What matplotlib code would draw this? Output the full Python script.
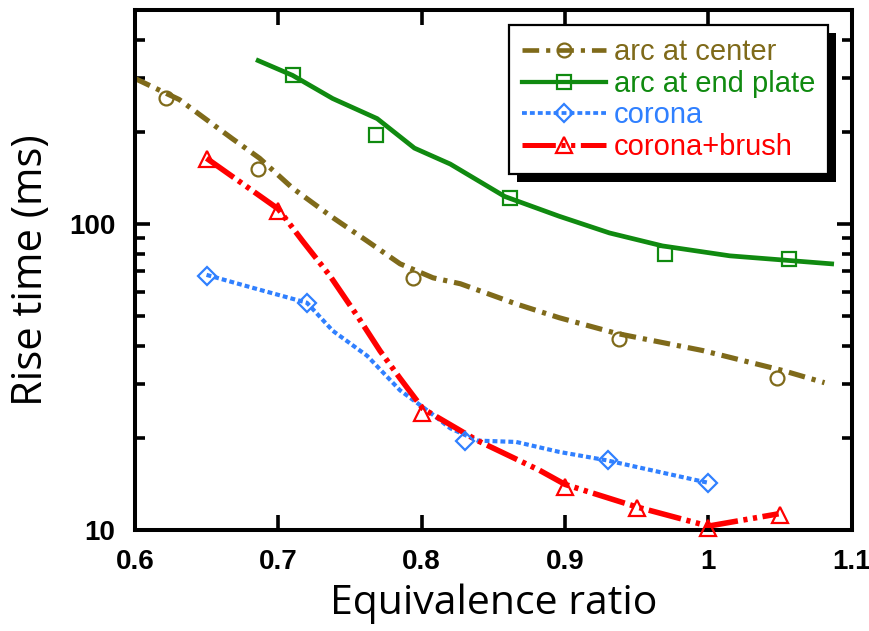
import numpy as np
import matplotlib
matplotlib.use('Agg')
import matplotlib.pyplot as plt
from matplotlib.lines import Line2D
from matplotlib.patches import Rectangle
from matplotlib.ticker import LogLocator, FuncFormatter, NullFormatter, MultipleLocator

plt.rcParams['lines.scale_dashes'] = False

# ─── DATA ─────────────────────────────────────────────────────────────────
# measured points (markers)
arc_center_x = [0.622, 0.686, 0.794, 0.938, 1.048]
arc_center_y = [259, 151, 66.7, 42.2, 31.3]

arc_end_x = [0.710, 0.768, 0.862, 0.970, 1.056]
arc_end_y = [306, 196, 122, 79.8, 76.9]

corona_x = [0.650, 0.720, 0.830, 0.930, 1.000]
corona_y = [67.8, 55.3, 19.5, 16.9, 14.2]

brush_x = [0.650, 0.700, 0.800, 0.900, 0.950, 1.000, 1.050]
brush_y = [163, 110, 24.2, 13.8, 11.8, 10.15, 11.2]

# fitted curves (lines)
arc_center_fit_x = [0.600, 0.631, 0.668, 0.687, 0.710, 0.738, 0.762, 0.785, 0.808,
                    0.827, 0.866, 0.896, 0.936, 0.996, 1.052, 1.081]
arc_center_fit_y = [299, 255, 190, 164, 131, 105, 88, 74.1, 66.7,
                    63.8, 54.8, 49.4, 43.9, 38.6, 33.2, 30.3]

arc_end_fit_x = [0.686, 0.710, 0.738, 0.769, 0.795, 0.820, 0.858, 0.896, 0.931,
                 0.968, 1.015, 1.086]
arc_end_fit_y = [342, 306, 257, 221, 177, 157, 123, 106, 93.5,
                 84.8, 78.7, 74.1]

corona_fit_x = [0.650, 0.682, 0.720, 0.738, 0.762, 0.785, 0.806, 0.820, 0.839,
                0.866, 0.896, 0.929, 0.999]
corona_fit_y = [68.2, 61.9, 55.3, 44.8, 37.1, 28.6, 24.2, 21.5, 19.6,
                19.4, 18.0, 16.9, 14.3]

brush_fit_x = [0.650, 0.700, 0.717, 0.736, 0.756, 0.771, 0.785, 0.801, 0.839,
               0.882, 0.900, 0.950, 1.000, 1.049]
brush_fit_y = [164, 112, 88, 67.8, 49.4, 38.5, 31.3, 24.9, 19.6,
               15.7, 14.1, 11.9, 10.3, 11.3]

labels = ['arc at center', 'arc at end plate', 'corona', 'corona+brush']

# ─── STYLES ───────────────────────────────────────────────────────────────
OLIVE = '#7f6a1a'
GREEN = '#108a10'
BLUE = '#3080ff'
RED = '#ff0000'

series = [
    (arc_center_x, arc_center_y, arc_center_fit_x, arc_center_fit_y,
     OLIVE, (0, (12, 5, 3, 5)), 'o', 10, 3.7),
    (arc_end_x, arc_end_y, arc_end_fit_x, arc_end_fit_y,
     GREEN, '-', 's', 10.5, 3.4),
    (corona_x, corona_y, corona_fit_x, corona_fit_y,
     BLUE, (0, (3.5, 2.2)), 'D', 9.5, 3.0),
    (brush_x, brush_y, brush_fit_x, brush_fit_y,
     RED, (0, (24, 4, 3, 4, 3, 4)), '^', 12, 4.0),
]

fig = plt.figure(figsize=(8.7, 6.31), dpi=100)
ax = fig.add_axes([0.155, 0.160, 0.824, 0.824])

handles = []
for xm, ym, xf, yf, col, ls, mk, ms, lw in series:
    ax.plot(xf, yf, color=col, ls=ls, lw=lw, zorder=2)
    ax.plot(xm, ym, ls='none', marker=mk, ms=ms, mfc='none', mec=col,
            mew=1.6, clip_on=False, zorder=3)
    handles.append(Line2D([], [], color=col, ls=ls, lw=lw * 0.9, marker=mk,
                          ms=ms, mfc='none', mec=col, mew=1.6))

ax.set_yscale('log')
ax.set_xlim(0.6, 1.1)
ax.set_ylim(10, 500)

ax.xaxis.set_major_locator(MultipleLocator(0.1))
ax.xaxis.set_major_formatter(FuncFormatter(lambda v, p: f'{v:g}'))
ax.yaxis.set_major_locator(LogLocator(base=10))
ax.yaxis.set_minor_locator(LogLocator(base=10, subs=np.arange(2, 10)))
ax.yaxis.set_major_formatter(FuncFormatter(lambda v, p: f'{v:g}'))
ax.yaxis.set_minor_formatter(NullFormatter())

for s in ax.spines.values():
    s.set_linewidth(2.9)

ax.tick_params(which='both', direction='in', top=True, right=True, width=2.6)
ax.tick_params(which='major', length=11, pad=14)
ax.tick_params(which='minor', length=7)
for lab in ax.get_xticklabels() + ax.get_yticklabels():
    lab.set_fontfamily('Liberation Sans')
    lab.set_fontweight('bold')
    lab.set_fontsize(20)

ax.set_xlabel('Equivalence ratio', fontsize=29.5, family='Open Sans', labelpad=6)
ax.set_ylabel('Rise time (ms)', fontsize=30, family='Open Sans', labelpad=12)

leg = ax.legend(handles, labels, loc='upper right', bbox_to_anchor=(0.967, 0.971),
                borderaxespad=0, prop={'family': 'Liberation Sans', 'size': 21},
                handlelength=2.9, handletextpad=0.25, labelspacing=0.12,
                borderpad=0.45, fancybox=False, framealpha=1, edgecolor='black')
leg.get_frame().set_linewidth(1.6)
for txt, col in zip(leg.get_texts(), [OLIVE, GREEN, BLUE, RED]):
    txt.set_color(col)

# drop shadow behind the legend box
fig.canvas.draw()
bb = leg.get_window_extent().transformed(ax.transAxes.inverted())
dx = 8 / ax.bbox.width
dy = 8 / ax.bbox.height
ax.add_patch(Rectangle((bb.x0 + dx, bb.y0 - dy), bb.width, bb.height,
                       transform=ax.transAxes, facecolor='black',
                       edgecolor='none', zorder=4.5, clip_on=False))

fig.savefig('out.png', dpi=100)
